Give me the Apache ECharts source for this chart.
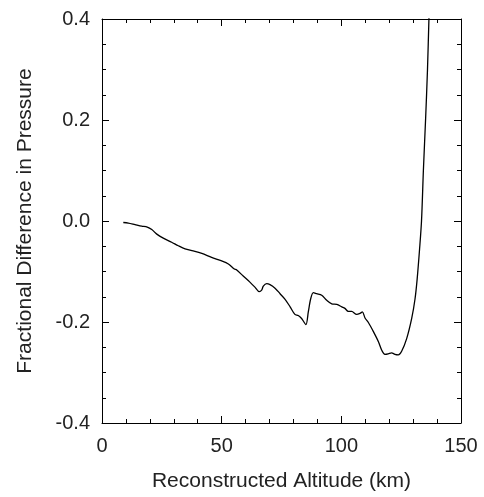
<!DOCTYPE html>
<html>
<head>
<meta charset="utf-8">
<script src="https://cdn.jsdelivr.net/npm/echarts@6/dist/echarts.min.js"></script>
<style>
  html, body { margin: 0; padding: 0; background: #fff; }
  #chart { width: 484px; height: 497px; }
</style>
</head>
<body>
<div id="chart"></div>
<script>
// altitude (km) and fractional pressure difference
var altitude = [8.9, 11.0, 13.8, 16.6, 18.9, 20.8, 22.9, 25.6, 29.1, 31.9, 34.7, 38.1, 41.7, 45.8,
  50.0, 52.8, 55.3, 56.3, 59.0, 61.8, 63.9, 65.7, 66.7, 67.4, 68.8, 70.2, 72.3, 74.4, 76.5,
  78.6, 80.6, 82.0, 83.4, 85.2, 86.2, 87.2, 88.3, 89.7, 91.8, 93.9, 96.0, 98.1, 100.2, 101.5,
  102.9, 104.3, 106.4, 107.8, 108.8, 109.9, 111.3, 113.4, 115.5, 116.9, 118.2, 119.6, 121.0,
  122.4, 123.8, 125.2, 127.3, 129.4, 130.8, 131.7, 132.7, 133.5, 134.3, 135.2, 136.0, 136.6, 136.8];
var fracDiff = [-0.003, -0.004, -0.007, -0.010, -0.012, -0.017, -0.026, -0.034, -0.042, -0.049,
  -0.055, -0.059, -0.064, -0.072, -0.079, -0.085, -0.095, -0.097, -0.109, -0.121, -0.131, -0.140,
  -0.137, -0.129, -0.124, -0.126, -0.133, -0.144, -0.155, -0.170, -0.185, -0.187, -0.193, -0.205,
  -0.180, -0.154, -0.142, -0.144, -0.147, -0.157, -0.164, -0.165, -0.170, -0.173, -0.179, -0.179,
  -0.185, -0.183, -0.180, -0.192, -0.201, -0.219, -0.239, -0.256, -0.264, -0.263, -0.261, -0.264,
  -0.265, -0.258, -0.233, -0.193, -0.154, -0.114, -0.055, 0.0, 0.102, 0.201, 0.300, 0.400, 0.43];

var xTicks = [0, 50, 100, 150];
var yTicks = [-0.4, -0.2, 0.0, 0.2, 0.4];

var points = altitude.map(function (a, i) { return [a, fracDiff[i]]; });

var chart = echarts.init(document.getElementById('chart'));

var textColor = '#222';
var font = 'Liberation Sans, Arial, Helvetica, sans-serif';

function boxAxis(extra) {
  var base = {
    axisLine: { show: true, onZero: false, lineStyle: { color: '#000', width: 1 } },
    axisTick: { show: true, inside: true, length: 7, lineStyle: { color: '#000' } },
    minorTick: { show: true, length: 4, lineStyle: { color: '#000' } },
    splitLine: { show: false },
    axisLabel: { show: false }
  };
  return Object.assign(base, extra);
}

chart.setOption({
  backgroundColor: '#fff',
  animation: false,
  grid: { left: 102, right: 23, top: 19, bottom: 72 },
  xAxis: [
    boxAxis({
      type: 'value', position: 'bottom',
      min: xTicks[0], max: xTicks[xTicks.length - 1], interval: 50,
      minorTick: { show: true, splitNumber: 5, length: 4, lineStyle: { color: '#000' } },
      axisLabel: { show: true, margin: 13, color: textColor, fontSize: 20, fontFamily: font },
      name: 'Reconstructed Altitude (km)', nameLocation: 'middle', nameGap: 48,
      nameTextStyle: { color: textColor, fontSize: 21, fontFamily: font }
    }),
    boxAxis({
      type: 'value', position: 'top',
      min: xTicks[0], max: xTicks[xTicks.length - 1], interval: 50,
      minorTick: { show: true, splitNumber: 5, length: 4, lineStyle: { color: '#000' } }
    })
  ],
  yAxis: [
    boxAxis({
      type: 'value', position: 'left',
      min: yTicks[0], max: yTicks[yTicks.length - 1], interval: 0.2,
      minorTick: { show: true, splitNumber: 4, length: 4, lineStyle: { color: '#000' } },
      axisLabel: {
        show: true, margin: 12, color: textColor, fontSize: 20, fontFamily: font,
        formatter: function (v) { return v.toFixed(1); }
      },
      name: 'Fractional Difference in Pressure', nameLocation: 'middle', nameGap: 66,
      nameTextStyle: { color: textColor, fontSize: 21, fontFamily: font }
    }),
    boxAxis({
      type: 'value', position: 'right',
      min: yTicks[0], max: yTicks[yTicks.length - 1], interval: 0.2,
      minorTick: { show: true, splitNumber: 4, length: 4, lineStyle: { color: '#000' } }
    })
  ],
  series: [{
    type: 'line',
    data: points,
    xAxisIndex: 0,
    yAxisIndex: 0,
    showSymbol: false,
    smooth: 0.3,
    clip: true,
    lineStyle: { color: '#000', width: 1.3 }
  }]
});
</script>
</body>
</html>
